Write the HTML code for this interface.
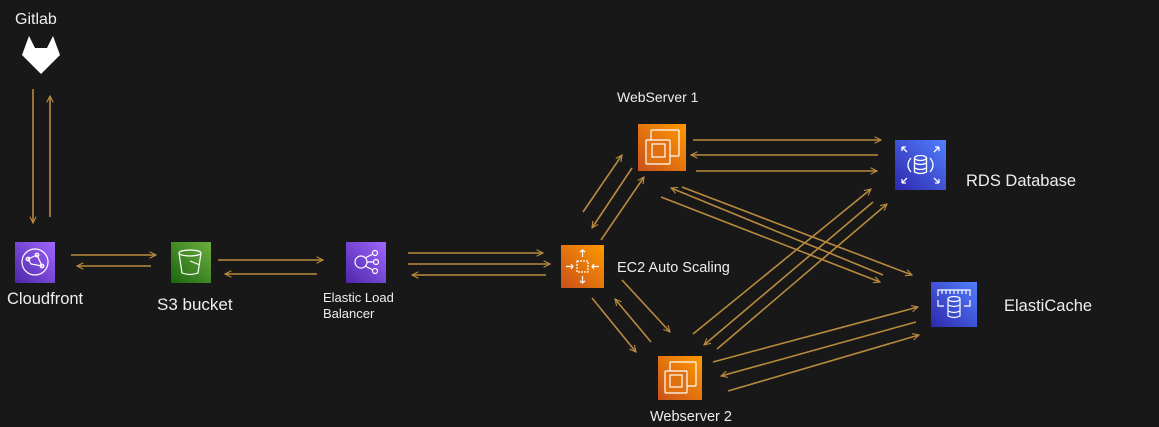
<!DOCTYPE html>
<html><head><meta charset="utf-8"><style>
html,body{margin:0;padding:0;background:#181818;}
body{width:1159px;height:427px;overflow:hidden;position:relative;font-family:"Liberation Sans",sans-serif;}
svg{position:absolute;left:0;top:0;}
</style></head><body>
<svg width="1159" height="427" viewBox="0 0 1159 427" xmlns="http://www.w3.org/2000/svg">
<defs>
<marker id="a" viewBox="0 0 10 10" refX="9" refY="5" markerWidth="8" markerHeight="8" orient="auto" markerUnits="userSpaceOnUse">
<path d="M1,1 L9,5 L1,9" fill="none" stroke="#b98a3e" stroke-width="1.4"/>
</marker>
<linearGradient id="gp" x1="0" y1="1" x2="1" y2="0"><stop offset="0" stop-color="#4d27a8"/><stop offset="1" stop-color="#a166ff"/></linearGradient>
<linearGradient id="gg" x1="0" y1="1" x2="1" y2="0"><stop offset="0" stop-color="#1b660f"/><stop offset="1" stop-color="#6cae3e"/></linearGradient>
<linearGradient id="go" x1="0" y1="1" x2="1" y2="0"><stop offset="0" stop-color="#c8511b"/><stop offset="1" stop-color="#ff9900"/></linearGradient>
<linearGradient id="gb" x1="0" y1="1" x2="1" y2="0"><stop offset="0" stop-color="#2e27ad"/><stop offset="1" stop-color="#527fff"/></linearGradient>
</defs>
<rect width="1159" height="427" fill="#181818"/>
<g stroke="#b98a3e" stroke-width="1.6" fill="none" marker-end="url(#a)">
<line x1="33" y1="89" x2="33" y2="223"/>
<line x1="50" y1="217" x2="50" y2="96"/>
<line x1="71" y1="255" x2="156" y2="255"/>
<line x1="151" y1="266" x2="77" y2="266"/>
<line x1="218" y1="260" x2="323" y2="260"/>
<line x1="317" y1="274" x2="225" y2="274"/>
<line x1="408" y1="253" x2="543" y2="253"/>
<line x1="408" y1="264" x2="550" y2="264"/>
<line x1="546" y1="275" x2="412" y2="275"/>
<line x1="693" y1="140" x2="881" y2="140"/>
<line x1="878" y1="155" x2="691" y2="155"/>
<line x1="696" y1="171" x2="877" y2="171"/>
<line x1="583" y1="212" x2="622" y2="155"/>
<line x1="632" y1="168" x2="592" y2="228"/>
<line x1="601" y1="240" x2="644" y2="177"/>
<line x1="682" y1="187" x2="912" y2="275"/>
<line x1="883" y1="275" x2="671" y2="188"/>
<line x1="661" y1="197" x2="880" y2="282"/>
<line x1="622" y1="280" x2="670" y2="332"/>
<line x1="651" y1="342" x2="615" y2="299"/>
<line x1="592" y1="298" x2="636" y2="352"/>
<line x1="693" y1="334" x2="871" y2="189"/>
<line x1="873" y1="202" x2="704" y2="345"/>
<line x1="717" y1="349" x2="887" y2="204"/>
<line x1="713" y1="362" x2="918" y2="307"/>
<line x1="916" y1="322" x2="721" y2="376"/>
<line x1="728" y1="391" x2="919" y2="335"/>
</g>
<path d="M29,36 L35,48 L47,48 L53,36 L60,55 L41,74 L22,55 Z" fill="#fff"/>
<text x="15" y="24" fill="#eee" font-size="16">Gitlab</text>
<rect x="15" y="242" width="40" height="41" fill="url(#gp)"/>
<g stroke="#fff" stroke-width="1.2" fill="none"><circle cx="35" cy="262" r="13"/><path d="M28,259 L37,255 L42,266 L31,264 Z"/><circle cx="28" cy="259" r="1.8"/><circle cx="37" cy="255" r="1.8"/><circle cx="42" cy="266" r="1.8"/></g>
<text x="7" y="304" fill="#eee" font-size="16.5">Cloudfront</text>
<rect x="171" y="242" width="40" height="41" fill="url(#gg)"/>
<g stroke="#fff" stroke-width="1.2" fill="none"><ellipse cx="190" cy="253" rx="11" ry="3"/><path d="M179,253 L182,273 Q190,276 198,273 L201,253"/><path d="M190,261 L200,265"/></g>
<text x="157" y="310" fill="#eee" font-size="17">S3 bucket</text>
<rect x="346" y="242" width="40" height="41" fill="url(#gp)"/>
<g stroke="#fff" stroke-width="1.2" fill="none"><circle cx="361" cy="262" r="6"/><circle cx="375" cy="253" r="2.5"/><circle cx="376" cy="262" r="2.5"/><circle cx="375" cy="271" r="2.5"/><path d="M367,262 L373,262 M365,258 L373,254 M365,266 L373,270"/></g>
<text x="323" y="302" fill="#eee" font-size="13">Elastic Load</text>
<text x="323" y="318" fill="#eee" font-size="13">Balancer</text>
<rect x="561" y="245" width="43" height="43" fill="url(#go)"/>
<g stroke="#fff" stroke-width="1.2" fill="none"><rect x="577" y="261" width="11" height="11" stroke-dasharray="2 1"/><path d="M582.5,250 V257 M580,252 L582.5,250 L585,252 M582.5,283 V276 M580,281 L582.5,283 L585,281 M566,266.5 H573 M571,264 L573,266.5 L571,269 M599,266.5 H592 M594,264 L592,266.5 L594,269"/></g>
<text x="617" y="272" fill="#eee" font-size="14.5">EC2 Auto Scaling</text>
<rect x="638" y="124" width="48" height="47" fill="url(#go)"/>
<g stroke="#fff" stroke-width="1.2" fill="none"><rect x="651" y="130" width="28" height="26" rx="1"/><rect x="646" y="140" width="24" height="24" rx="1" fill="#e2700f"/><rect x="652" y="144" width="13" height="13"/></g>
<text x="617" y="102" fill="#eee" font-size="14">WebServer 1</text>
<rect x="658" y="356" width="44" height="44" fill="url(#go)"/>
<g stroke="#fff" stroke-width="1.2" fill="none"><rect x="670" y="362" width="26" height="24" rx="1"/><rect x="665" y="371" width="22" height="22" rx="1" fill="#e2700f"/><rect x="670" y="375" width="12" height="12"/></g>
<text x="650" y="421" fill="#eee" font-size="14.5">Webserver 2</text>
<rect x="895" y="140" width="51" height="50" fill="url(#gb)"/>
<g stroke="#fff" stroke-width="1.3" fill="none"><ellipse cx="920.5" cy="158" rx="6" ry="2.5"/><path d="M914.5,158 V172 Q920.5,175 926.5,172 V158 M914.5,163 Q920.5,166 926.5,163 M914.5,168 Q920.5,171 926.5,168"/><path d="M911,158 Q905,165 911,172 M930,158 Q936,165 930,172"/><path d="M902,147 L907,152 M902,147 V151 M902,147 H906 M939,147 L934,152 M939,147 V151 M939,147 H935 M902,183 L907,178 M902,183 V179 M902,183 H906 M939,183 L934,178 M939,183 V179 M939,183 H935"/></g>
<text x="966" y="186" fill="#eee" font-size="16.5">RDS Database</text>
<rect x="931" y="282" width="46" height="45" fill="url(#gb)"/>
<g stroke="#fff" stroke-width="1.2" fill="none"><path d="M938,296 V290 H970 V296 M938,300 V306 H944 M970,300 V306 H964"/><path d="M942,290 V294 M946,290 V294 M950,290 V294 M954,290 V294 M958,290 V294 M962,290 V294 M966,290 V294"/><ellipse cx="954" cy="299" rx="6" ry="2.5"/><path d="M948,299 V316 Q954,319 960,316 V299 M948,305 Q954,308 960,305 M948,311 Q954,314 960,311"/></g>
<text x="1004" y="311" fill="#eee" font-size="16.5">ElastiCache</text>
</svg>
</body></html>
